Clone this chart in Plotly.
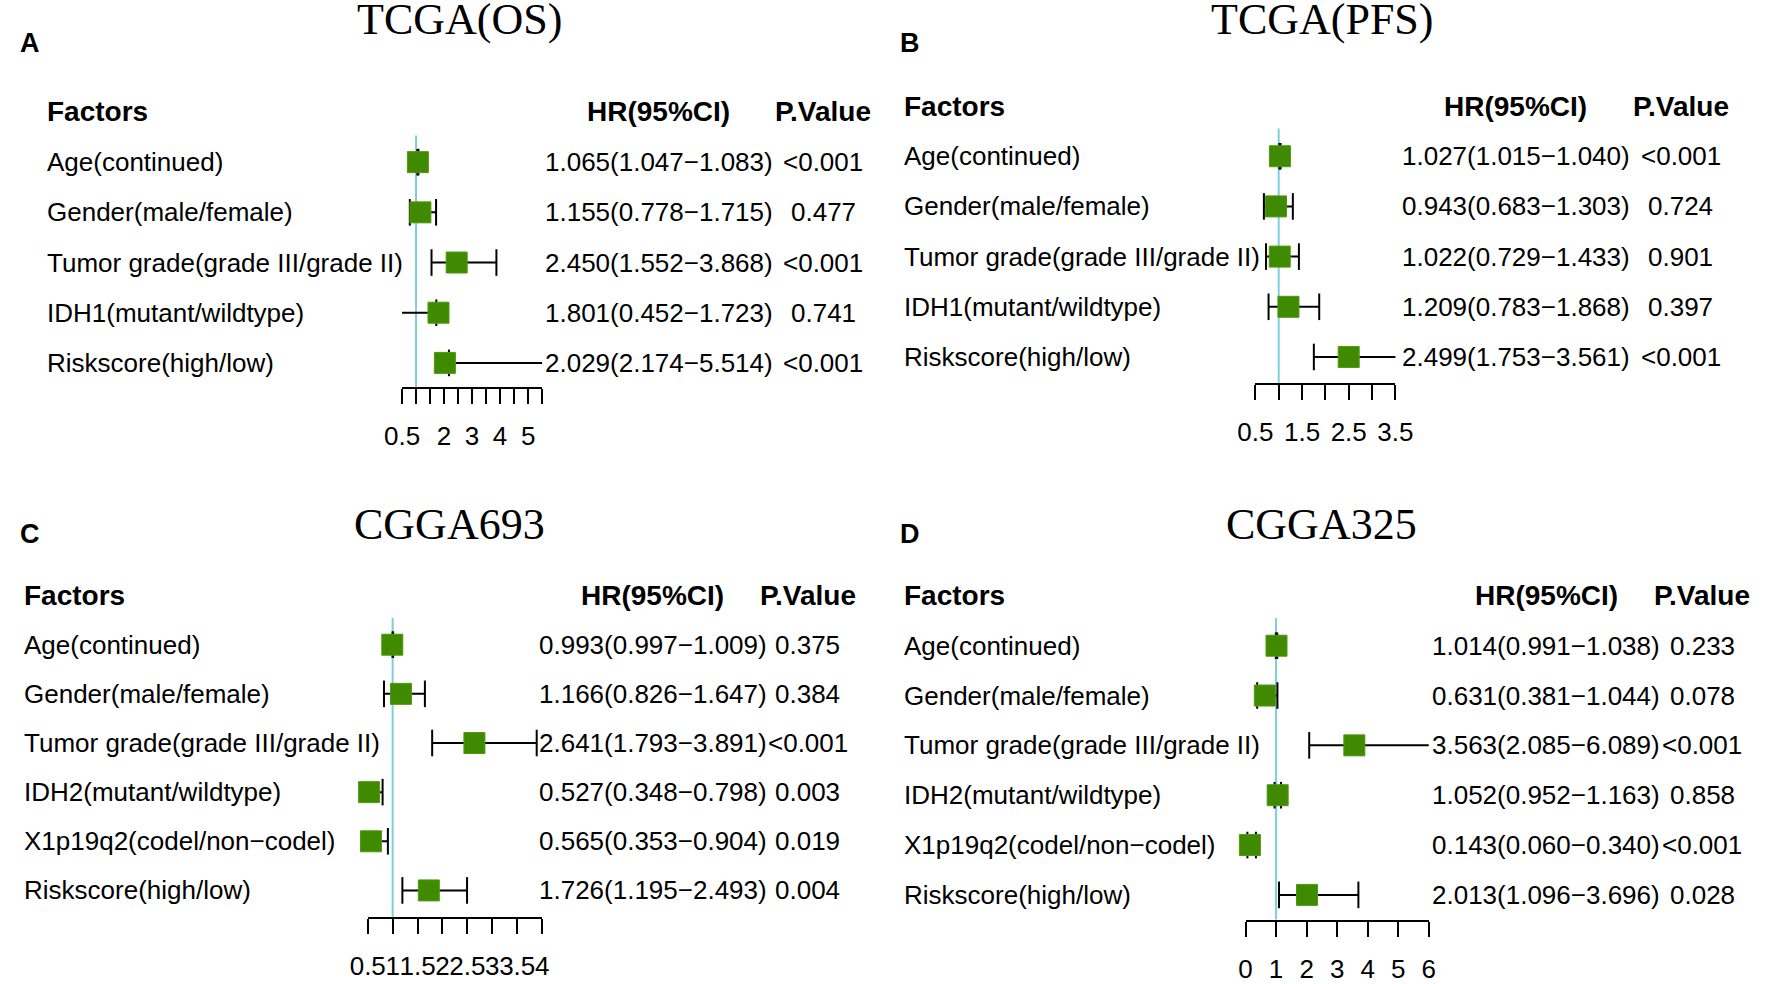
#!/usr/bin/env python3
"""
Forest plots of Cox regression results for four glioma cohorts (TCGA OS / PFS, CGGA693, CGGA325).
"""

import plotly.graph_objects as go

W, H = 1772, 984
MINUS = "\u2212"

# ---- data -------------------------------------------------------------
# Panel A: TCGA(OS)
os_factors = ["Age(continued)", "Gender(male/female)", "Tumor grade(grade III/grade II)",
              "IDH1(mutant/wildtype)", "Riskscore(high/low)"]
os_hr = [1.065, 1.155, 2.450, 1.801, 2.029]
os_low = [1.047, 0.778, 1.552, 0.452, 2.174]
os_high = [1.083, 1.715, 3.868, 1.723, 5.514]
os_p = ["<0.001", "0.477", "<0.001", "0.741", "<0.001"]
os_ticks = [0.5, 1, 1.5, 2, 2.5, 3, 3.5, 4, 4.5, 5, 5.5]
os_ticklabels = ["0.5", "", "", "2", "", "3", "", "4", "", "5", ""]

# Panel B: TCGA(PFS)
pfs_factors = ["Age(continued)", "Gender(male/female)", "Tumor grade(grade III/grade II)",
               "IDH1(mutant/wildtype)", "Riskscore(high/low)"]
pfs_hr = [1.027, 0.943, 1.022, 1.209, 2.499]
pfs_low = [1.015, 0.683, 0.729, 0.783, 1.753]
pfs_high = [1.040, 1.303, 1.433, 1.868, 3.561]
pfs_p = ["<0.001", "0.724", "0.901", "0.397", "<0.001"]
pfs_ticks = [0.5, 1, 1.5, 2, 2.5, 3, 3.5]
pfs_ticklabels = ["0.5", "", "1.5", "", "2.5", "", "3.5"]

# Panel C: CGGA693
c693_factors = ["Age(continued)", "Gender(male/female)", "Tumor grade(grade III/grade II)",
                "IDH2(mutant/wildtype)", "X1p19q2(codel/non" + MINUS + "codel)", "Riskscore(high/low)"]
c693_hr = [0.993, 1.166, 2.641, 0.527, 0.565, 1.726]
c693_low = [0.997, 0.826, 1.793, 0.348, 0.353, 1.195]
c693_high = [1.009, 1.647, 3.891, 0.798, 0.904, 2.493]
c693_p = ["0.375", "0.384", "<0.001", "0.003", "0.019", "0.004"]
c693_ticks = [0.5, 1, 1.5, 2, 2.5, 3, 3.5, 4]
c693_ticklabels = ["0.5", "1", "1.5", "2", "2.5", "3", "3.5", "4"]

# Panel D: CGGA325
c325_factors = ["Age(continued)", "Gender(male/female)", "Tumor grade(grade III/grade II)",
                "IDH2(mutant/wildtype)", "X1p19q2(codel/non" + MINUS + "codel)", "Riskscore(high/low)"]
c325_hr = [1.014, 0.631, 3.563, 1.052, 0.143, 2.013]
c325_low = [0.991, 0.381, 2.085, 0.952, 0.060, 1.096]
c325_high = [1.038, 1.044, 6.089, 1.163, 0.340, 3.696]
c325_p = ["0.233", "0.078", "<0.001", "0.858", "<0.001", "0.028"]
c325_ticks = [0, 1, 2, 3, 4, 5, 6]
c325_ticklabels = ["0", "1", "2", "3", "4", "5", "6"]

# ---- styling / layout (pixels of the 1772x984 canvas) ------------------
BOX_COLOR = "#3f8a00"
REF_COLOR = "#7ccfdc"
SANS = "Liberation Sans, Arial, sans-serif"
SERIF = "Liberation Serif, Times New Roman, serif"

panels = [
    dict(letter="A", title="TCGA(OS)", factors=os_factors, hr=os_hr, low=os_low, high=os_high,
         p=os_p, ticks=os_ticks, ticklabels=os_ticklabels,
         xpix=(392, 535), top=137, axis_y=391, row0=164, step=50.75,
         label_x=28, hr_x=654, p_x=822, title_x=451, title_y=20, letter_x=0, letter_y=43),
    dict(letter="B", title="TCGA(PFS)", factors=pfs_factors, hr=pfs_hr, low=pfs_low, high=pfs_high,
         p=pfs_p, ticks=pfs_ticks, ticklabels=pfs_ticklabels,
         xpix=(1263, 1406), top=130, axis_y=387, row0=158, step=50.75,
         label_x=902, hr_x=1529, p_x=1697, title_x=1332, title_y=20, letter_x=898, letter_y=43),
    dict(letter="C", title="CGGA693", factors=c693_factors, hr=c693_hr, low=c693_low, high=c693_high,
         p=c693_p, ticks=c693_ticks, ticklabels=c693_ticklabels,
         xpix=(357, 535), top=625, axis_y=927, row0=652, step=49.7,
         label_x=4, hr_x=648, p_x=806, title_x=440, title_y=530, letter_x=0, letter_y=540),
    dict(letter="D", title="CGGA325", factors=c325_factors, hr=c325_hr, low=c325_low, high=c325_high,
         p=c325_p, ticks=c325_ticks, ticklabels=c325_ticklabels,
         xpix=(1253, 1440), top=625, axis_y=930, row0=653, step=50.4,
         label_x=902, hr_x=1560, p_x=1719, title_x=1331, title_y=530, letter_x=898, letter_y=540),
]


def px_x(x):
    return x / W


def px_y(y):
    return 1 - y / H


fig = go.Figure()
annotations = []
shapes = []

for k, pan in enumerate(panels, start=1):
    xa = "x" if k == 1 else f"x{k}"
    ya = "y" if k == 1 else f"y{k}"
    n = len(pan["factors"])
    rows = list(range(n))

    # CI segments
    seg_x, seg_y = [], []
    for i in rows:
        seg_x += [pan["low"][i], pan["high"][i], None]
        seg_y += [i, i, None]
    fig.add_trace(go.Scatter(x=seg_x, y=seg_y, mode="lines", xaxis=xa, yaxis=ya,
                             line=dict(color="black", width=2), hoverinfo="skip",
                             showlegend=False))
    # CI end caps
    fig.add_trace(go.Scatter(x=pan["low"] + pan["high"], y=rows + rows, mode="markers",
                             xaxis=xa, yaxis=ya, cliponaxis=False, hoverinfo="skip",
                             marker=dict(symbol="line-ns", size=19,
                                         line=dict(color="black", width=2)),
                             showlegend=False))
    # HR boxes
    fig.add_trace(go.Scatter(x=pan["hr"], y=rows, mode="markers", xaxis=xa, yaxis=ya,
                             cliponaxis=False, text=pan["factors"],
                             hovertemplate="%{text}<br>HR=%{x}<extra></extra>",
                             marker=dict(symbol="square", size=21, color=BOX_COLOR,
                                         line=dict(color="#4f9a10", width=1)),
                             showlegend=False))

    x0, x1 = pan["xpix"]
    ax_x = dict(domain=[px_x(x0), px_x(x1)], range=[pan["ticks"][0], pan["ticks"][-1]],
                anchor=ya, tickmode="array", tickvals=pan["ticks"], ticktext=pan["ticklabels"],
                ticks="outside", ticklen=15, tickwidth=2, tickcolor="black",
                showline=True, linewidth=2, linecolor="black", showgrid=False, zeroline=False,
                tickangle=0, ticklabelstandoff=10,
                tickfont=dict(family=SANS, size=26, color="black"))
    r_bottom = (pan["axis_y"] - pan["row0"]) / pan["step"]
    r_top = (pan["top"] - pan["row0"]) / pan["step"]
    ax_y = dict(domain=[px_y(pan["axis_y"]), px_y(pan["top"])], range=[r_bottom, r_top],
                anchor=xa, visible=False, showgrid=False, zeroline=False)
    fig.update_layout(**{("xaxis" if k == 1 else f"xaxis{k}"): ax_x,
                         ("yaxis" if k == 1 else f"yaxis{k}"): ax_y})

    # reference line at HR = 1
    shapes.append(dict(type="line", xref=xa, yref=f"{ya} domain", x0=1, x1=1, y0=0, y1=1,
                       line=dict(color=REF_COLOR, width=2), layer="below"))

    body = dict(family=SANS, size=26, color="black")
    head = dict(family=SANS, size=28, color="black")
    # column headers, one row spacing above the first row
    head_y = px_y(pan["row0"] - pan["step"])
    for text, xpos, anchor in [("<b>Factors</b>", pan["label_x"], "left"),
                               ("<b>HR(95%CI)</b>", pan["hr_x"], "center"),
                               ("<b>P.Value</b>", pan["p_x"], "center")]:
        annotations.append(dict(xref="paper", yref="paper", x=px_x(xpos), y=head_y,
                                text=text, xanchor=anchor, yanchor="middle",
                                showarrow=False, font=head))
    for i in rows:
        hr_txt = f"{pan['hr'][i]:.3f}({pan['low'][i]:.3f}{MINUS}{pan['high'][i]:.3f})"
        annotations.append(dict(xref="paper", yref=ya, x=px_x(pan["label_x"]), y=i,
                                text=pan["factors"][i], xanchor="left", showarrow=False, font=body))
        annotations.append(dict(xref="paper", yref=ya, x=px_x(pan["hr_x"]), y=i,
                                text=hr_txt, xanchor="center", showarrow=False, font=body))
        annotations.append(dict(xref="paper", yref=ya, x=px_x(pan["p_x"]), y=i,
                                text=pan["p"][i], xanchor="center", showarrow=False, font=body))

    # panel title and letter
    annotations.append(dict(xref="paper", yref="paper", x=px_x(pan["title_x"]),
                            y=px_y(pan["title_y"]), text=pan["title"], xanchor="center",
                            yanchor="middle", showarrow=False,
                            font=dict(family=SERIF, size=44, color="black")))
    annotations.append(dict(xref="paper", yref="paper", x=px_x(pan["letter_x"]),
                            y=px_y(pan["letter_y"]), text=f"<b>{pan['letter']}</b>",
                            xanchor="left", yanchor="middle", showarrow=False,
                            font=dict(family=SANS, size=27, color="black")))

fig.update_layout(
    width=W, height=H,
    margin=dict(l=0, r=0, t=0, b=0),
    paper_bgcolor="white", plot_bgcolor="white",
    showlegend=False,
    annotations=annotations,
    shapes=shapes,
)

# pin the page to exactly the figure size (no default body margin)
page_fix = (
    "var s=document.documentElement.style, b=document.body.style;"
    f"s.margin='0';s.padding='0';s.overflow='hidden';s.width='{W}px';s.height='{H}px';"
    f"b.margin='0';b.padding='0';b.overflow='hidden';b.width='{W}px';b.height='{H}px';"
)
fig.write_html("out.html", config={"displayModeBar": False}, post_script=page_fix)
